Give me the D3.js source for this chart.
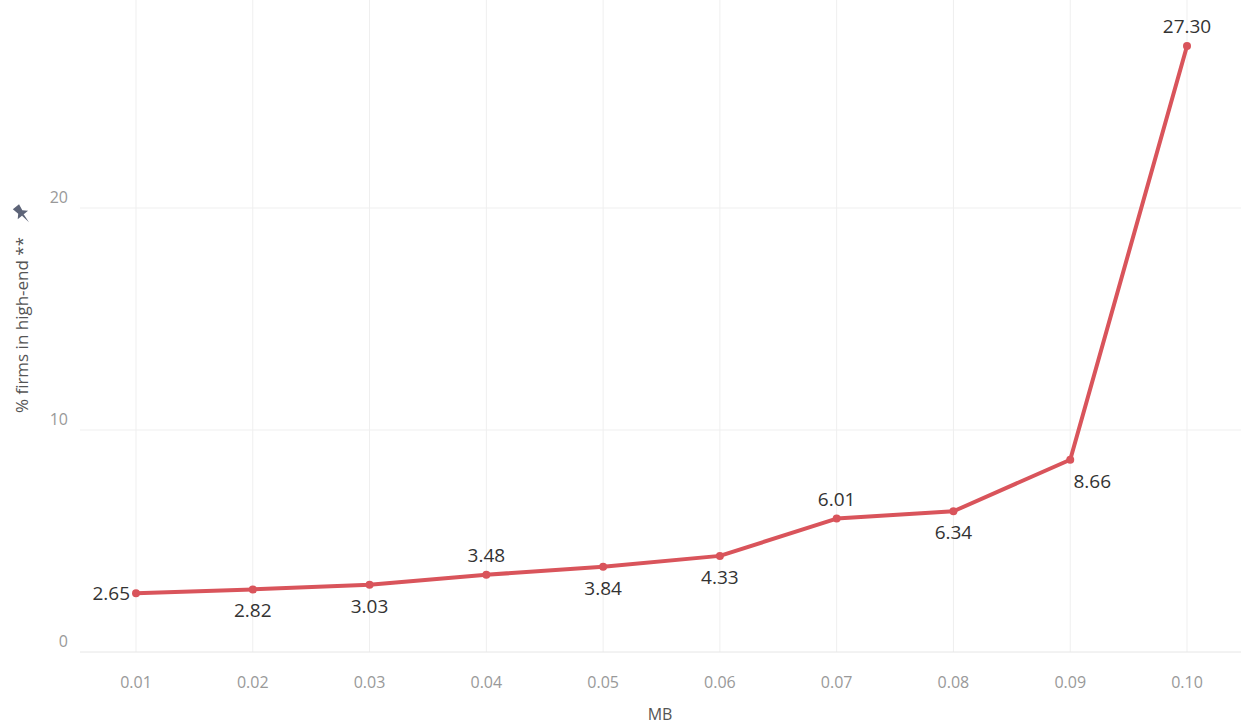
<!DOCTYPE html>
<html>
<head>
<meta charset="utf-8">
<script src="https://cdn.jsdelivr.net/npm/d3@7"></script>
<style>
  body { margin: 0; background: #fff; }
  text { font-family: "Open Sans", "Noto Sans", sans-serif; }
</style>
</head>
<body>
<div id="vis"></div>
<script>
// data
let mbValues = [0.01, 0.02, 0.03, 0.04, 0.05, 0.06, 0.07, 0.08, 0.09, 0.10];
let pctFirms = [2.65, 2.82, 3.03, 3.48, 3.84, 4.33, 6.01, 6.34, 8.66, 27.30];
// where each label sits relative to its point
let labelSide = ["left", "below", "below", "above", "below", "below", "above", "below", "belowright", "above"];
let yTicks = [0, 10, 20];

let width = 1241, height = 725;
let plotLeft = 80, plotRight = 1241, plotTop = 0, plotBottom = 652;

let svg = d3.select("#vis").append("svg")
    .attr("width", width)
    .attr("height", height);

let x = d3.scalePoint()
    .domain(mbValues)
    .range([136, 1187]);

let y = d3.scaleLinear()
    .domain([0, 29.37])
    .range([plotBottom, plotTop]);

// gridlines
svg.append("g")
    .selectAll("line")
    .data(mbValues)
    .enter().append("line")
    .attr("x1", d => x(d)).attr("x2", d => x(d))
    .attr("y1", plotTop).attr("y2", plotBottom)
    .attr("stroke", "#efefef")
    .attr("stroke-width", 1);

svg.append("g")
    .selectAll("line")
    .data(yTicks)
    .enter().append("line")
    .attr("x1", plotLeft).attr("x2", plotRight)
    .attr("y1", d => y(d)).attr("y2", d => y(d))
    .attr("stroke", d => d == 0 ? "#e6e6e6" : "#efefef")
    .attr("stroke-width", 1);

// y ticks
svg.append("g")
    .selectAll("text")
    .data(yTicks)
    .enter().append("text")
    .attr("x", 68)
    .attr("y", d => y(d) - 5)
    .attr("text-anchor", "end")
    .attr("font-size", 16)
    .attr("fill", "#999")
    .text(d => d);

// x ticks
svg.append("g")
    .selectAll("text")
    .data(mbValues)
    .enter().append("text")
    .attr("x", d => x(d))
    .attr("y", 688)
    .attr("text-anchor", "middle")
    .attr("font-size", 16)
    .attr("fill", "#999")
    .text(d => d3.format(".2f")(d));

// axis titles
svg.append("text")
    .attr("x", 660)
    .attr("y", 720)
    .attr("text-anchor", "middle")
    .attr("font-size", 16)
    .attr("fill", "#555")
    .text("MB");

svg.append("text")
    .attr("transform", "translate(28,325)rotate(-90)")
    .attr("text-anchor", "middle")
    .attr("font-size", 17)
    .attr("fill", "#555")
    .text("% firms in high-end **");

// pin icon beside the title
svg.append("path")
    .attr("transform", "translate(22,214)rotate(-40)scale(1.35)")
    .attr("d", "M-3,-7 L3,-7 L2,-2 L5,1 L-5,1 L-2,-2 Z M-0.8,1 L0,8 L0.8,1 Z")
    .attr("fill", "#5d6478");

let pts = mbValues.map((d, i) => [d, pctFirms[i]]);

let line = d3.line()
    .x(d => x(d[0]))
    .y(d => y(d[1]));

svg.append("path")
    .datum(pts)
    .attr("d", line)
    .attr("fill", "none")
    .attr("stroke", "#d9545b")
    .attr("stroke-width", 4)
    .attr("stroke-linejoin", "round");

svg.selectAll("circle")
    .data(pts)
    .enter().append("circle")
    .attr("cx", d => x(d[0]))
    .attr("cy", d => y(d[1]))
    .attr("r", 4)
    .attr("fill", "#d9545b");

svg.append("g")
    .selectAll("text")
    .data(pts)
    .enter().append("text")
    .attr("x", function(d, i) {
      let side = labelSide[i];
      if (side == "left") return x(d[0]) - 6;
      if (side == "belowright") return x(d[0]) + 22;
      return x(d[0]);
    })
    .attr("y", function(d, i) {
      let side = labelSide[i];
      if (side == "left") return y(d[1]) + 7;
      if (side == "above") return y(d[1]) - 13;
      return y(d[1]) + 28;
    })
    .attr("text-anchor", (d, i) => labelSide[i] == "left" ? "end" : "middle")
    .attr("font-size", 19)
    .attr("fill", "#333")
    .text(d => d3.format(".2f")(d[1]));
</script>
</body>
</html>
